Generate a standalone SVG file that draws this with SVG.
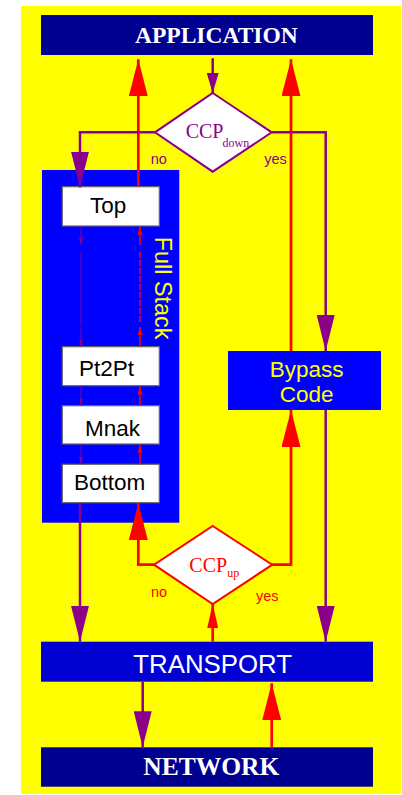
<svg xmlns="http://www.w3.org/2000/svg" width="402" height="795" viewBox="0 0 402 795">
<style>
.pl{stroke:#8b008b;stroke-width:2.5;fill:none}
.rl{stroke:#ff0000;stroke-width:2.7;fill:none}
.tp{stroke:#8b008b;stroke-width:1;fill:none}
.tr{stroke:#ff0000;stroke-width:1.5;fill:none}
.wb{fill:#ffffff;stroke:#666666;stroke-width:1.2}
.st{font-family:"Liberation Sans",Arial,sans-serif;font-size:22.5px;fill:#000000}
.big{font-family:"Liberation Serif","Times New Roman",serif;font-weight:bold;fill:#ffffff}
.lbl{font-family:"Liberation Sans",Arial,sans-serif;font-size:14.5px}
.ccp{font-family:"Liberation Serif","Times New Roman",serif}
</style>
<defs>
<marker id="bigRed" markerUnits="userSpaceOnUse" viewBox="0 0 37 19" markerWidth="37" markerHeight="19" refX="37" refY="9.5" orient="auto"><path d="M0,0 L37,9.5 L0,19 z" fill="#ff0000"/></marker>
<marker id="bigPurple" markerUnits="userSpaceOnUse" viewBox="0 0 36 18" markerWidth="36" markerHeight="18" refX="36" refY="9" orient="auto"><path d="M0,0 L36,9 L0,18 z" fill="#8b008b"/></marker>
<marker id="smallPurple" markerUnits="userSpaceOnUse" viewBox="0 0 20 12" markerWidth="20" markerHeight="12" refX="20" refY="6" orient="auto"><path d="M0,0 L20,6 L0,12 z" fill="#8b008b"/></marker>
<marker id="smallRed" markerUnits="userSpaceOnUse" viewBox="0 0 24 11" markerWidth="24" markerHeight="11" refX="24" refY="5.5" orient="auto"><path d="M0,0 L24,5.5 L0,11 z" fill="#ff0000"/></marker>
<marker id="tinyRed" markerUnits="userSpaceOnUse" viewBox="0 0 8 5" markerWidth="8" markerHeight="5" refX="8" refY="2.5" orient="auto"><path d="M0,0 L8,2.5 L0,5 z" fill="#ff0000"/></marker>
<marker id="tinyPurple" markerUnits="userSpaceOnUse" viewBox="0 0 7 4" markerWidth="7" markerHeight="4" refX="7" refY="2" orient="auto"><path d="M0,0 L7,2 L0,4 z" fill="#8b008b"/></marker>
</defs>
<rect x="21" y="6" width="380" height="788" fill="#ffff00"/>

<g id="application"><rect x="41" y="15" width="332" height="40" fill="#000090"/><text class="big" x="135" y="42.5" font-size="23.5">APPLICATION</text></g>
<g id="fullstack"><rect x="42" y="170" width="137.3" height="352.7" fill="#0000ff"/><text transform="translate(155,236.7) rotate(90)" font-family="'Liberation Sans',Arial,sans-serif" font-size="23.4" fill="#ffff00">Full Stack</text></g>
<g id="top"><rect class="wb" x="62.3" y="186.7" width="97" height="39.3"/><text class="st" x="90" y="213.3">Top</text></g>
<g id="pt2pt"><rect class="wb" x="62.3" y="346.7" width="97" height="39"/><text class="st" x="79" y="375.5">Pt2Pt</text></g>
<g id="mnak"><rect class="wb" x="62.3" y="405.7" width="97" height="38.3"/><text class="st" x="85" y="436">Mnak</text></g>
<g id="bottom"><rect class="wb" x="62.3" y="464.3" width="97" height="38.4"/><text class="st" x="74" y="490">Bottom</text></g>
<g id="bypass"><rect x="228" y="351" width="153" height="59" fill="#0000ff"/><text font-family="'Liberation Sans',Arial,sans-serif" font-size="22.5" fill="#ffff00" text-anchor="middle"><tspan x="306.7" y="376.5">Bypass</tspan><tspan x="306.7" y="402">Code</tspan></text></g>
<g id="ccpdown"><path d="M212.7,93 L271.7,132.3 L212.7,171.7 L155,132.3 z" fill="#ffffff" stroke="#8b008b" stroke-width="2"/><text class="ccp" fill="#8b008b"><tspan x="185.7" y="138" font-size="20">CCP</tspan><tspan x="222.5" y="146.7" font-size="12">down</tspan></text></g>
<g id="ccpup"><path d="M212.7,526 L272.3,564.7 L212.7,604 L154,564.7 z" fill="#ffffff" stroke="#ff0000" stroke-width="2"/><text class="ccp" fill="#ff0000"><tspan x="189.3" y="571.7" font-size="20">CCP</tspan><tspan x="227.3" y="576.7" font-size="12">up</tspan></text></g>
<g id="transport"><rect x="41" y="641.7" width="332" height="40" fill="#0000d0"/><text x="133.3" y="673.3" font-family="'Liberation Sans',Arial,sans-serif" font-size="25.8" fill="#ffffff">TRANSPORT</text></g>
<g id="network"><rect x="41" y="747.3" width="332" height="39.4" fill="#000090"/><text class="big" x="143.3" y="775" font-size="25.5">NETWORK</text></g>

<g id="labels">
<text class="lbl" x="150.7" y="164" fill="#8b008b">no</text>
<text class="lbl" x="264.3" y="164" fill="#8b008b">yes</text>
<text class="lbl" x="151" y="596.7" fill="#ff0000">no</text>
<text class="lbl" x="256" y="601" fill="#ff0000">yes</text>
</g>

<g id="connectors">
<path class="rl" d="M138.3,186.7 V59.3" marker-end="url(#bigRed)"/>
<path class="rl" d="M291,351 V59.3" marker-end="url(#bigRed)"/>
<path class="pl" d="M212.7,58.3 V93" marker-end="url(#smallPurple)"/>
<path class="pl" d="M155,132.3 H80 V187.5" marker-end="url(#bigPurple)"/>
<path class="pl" d="M271.7,132.3 H325.7 V351" marker-end="url(#bigPurple)"/>
<path class="tp" d="M81,226 V245" marker-end="url(#tinyPurple)"/>
<path class="tp" d="M81,252 V325"/>
<path class="tp" d="M81,327 V346.7" marker-end="url(#tinyPurple)"/>
<path class="tr" d="M140,245 V226.7" marker-end="url(#tinyRed)"/>
<path class="tr" d="M140,252 V322" stroke-width="1" stroke-dasharray="6 2"/>
<path class="tr" d="M140,346.7 V327" marker-end="url(#tinyRed)"/>
<path class="tp" d="M81,385.7 V405.7" marker-end="url(#tinyPurple)"/>
<path class="tr" d="M140,405.7 V386.5" marker-end="url(#tinyRed)"/>
<path class="tp" d="M81,444 V464.3" marker-end="url(#tinyPurple)"/>
<path class="tr" d="M140,464.3 V444.8" marker-end="url(#tinyRed)"/>
<path class="pl" d="M80,502.7 V641.7" marker-end="url(#bigPurple)"/>
<path class="rl" d="M154,564.7 H138.3 V503" marker-end="url(#bigRed)"/>
<path class="rl" d="M272.3,564.7 H291 V410" marker-end="url(#bigRed)"/>
<path class="rl" d="M212.7,641.7 V604" stroke-width="2" marker-end="url(#smallRed)"/>
<path class="pl" d="M325.7,410 V641.7" marker-end="url(#bigPurple)"/>
<path class="pl" d="M142.7,681.7 V747.3" marker-end="url(#bigPurple)"/>
<path class="rl" d="M271.7,747.3 V683.3" marker-end="url(#bigRed)"/>
</g>
</svg>
